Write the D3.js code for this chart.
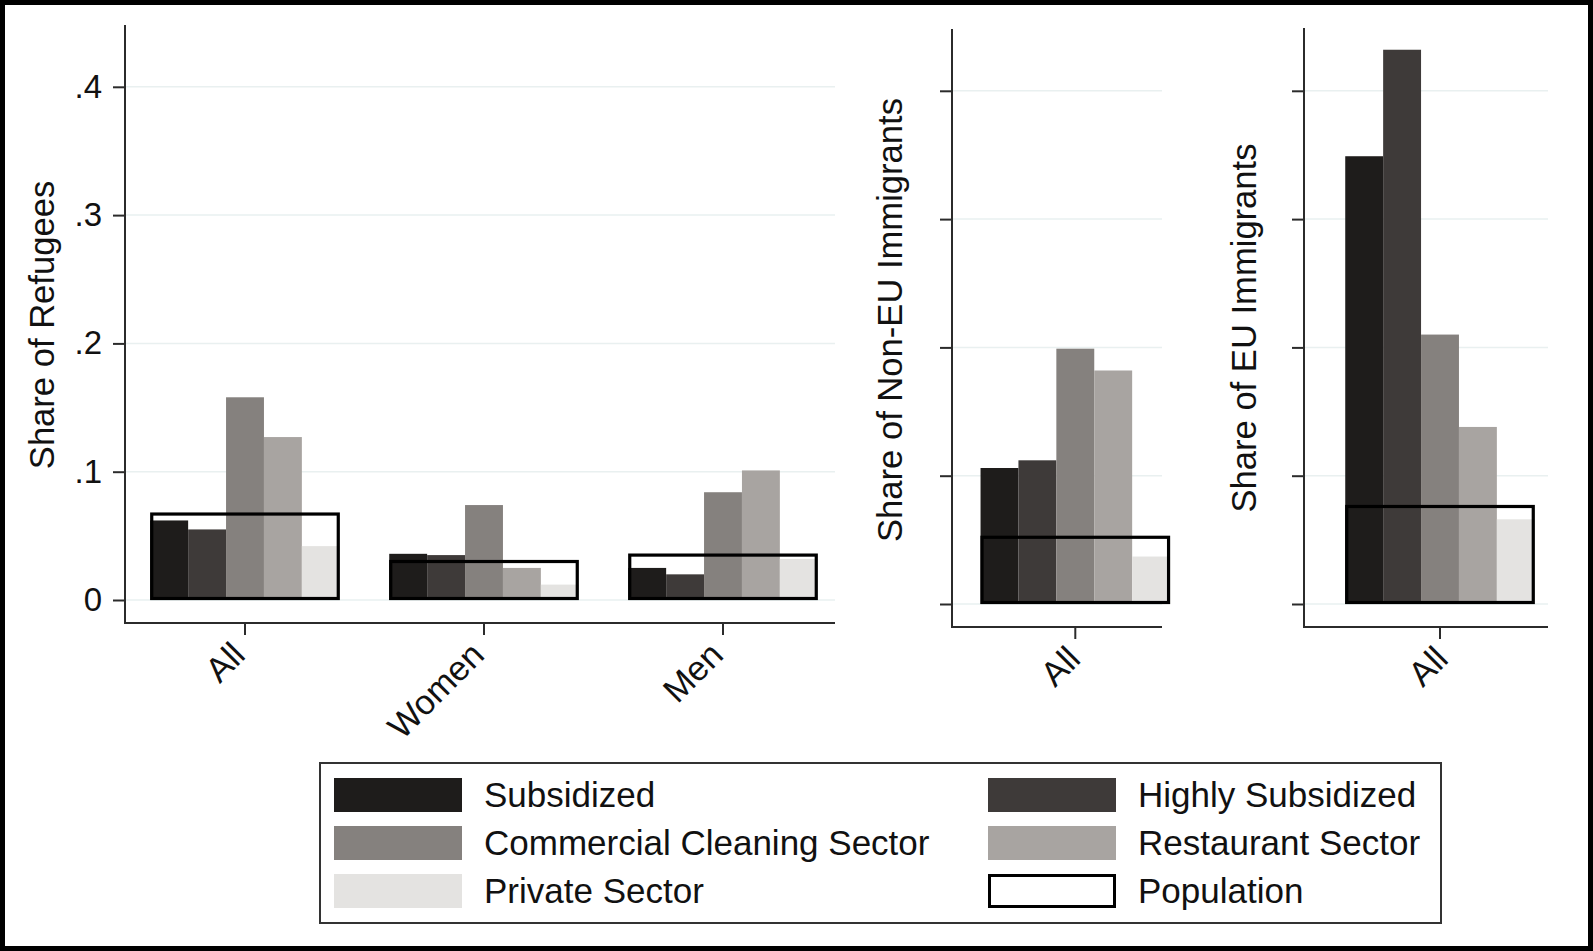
<!DOCTYPE html>
<html>
<head>
<meta charset="utf-8">
<script src="https://cdn.jsdelivr.net/npm/d3@7"></script>
<style>
  html, body { margin: 0; padding: 0; background: #fff; }
  svg { display: block; }
  text { font-family: "Liberation Sans", Arial, Helvetica, sans-serif; fill: #111; }
</style>
</head>
<body>
<svg id="chart" width="1593" height="951"></svg>
<script>
// ---------- data ----------
const seriesNames = ["Subsidized", "Highly Subsidized", "Commercial Cleaning Sector", "Restaurant Sector", "Private Sector"];
const seriesColors = ["#1e1c1b", "#3e3a39", "#85817e", "#a8a4a1", "#e4e3e1"];
const refugeeCategories = ["All", "Women", "Men"];
const refSubsidized = [0.062, 0.036, 0.025];
const refHighly = [0.055, 0.035, 0.020];
const refCleaning = [0.158, 0.074, 0.084];
const refRestaurant = [0.127, 0.025, 0.101];
const refPrivate = [0.042, 0.012, 0.032];
const refPopulation = [0.067, 0.030, 0.035];
const singleCategory = ["All"];
const nonEUValues = [0.106, 0.112, 0.199, 0.182, 0.037];
const nonEUPopulation = [0.052];
const euValues = [0.349, 0.432, 0.210, 0.138, 0.066];
const euPopulation = [0.076];
const yTickValues = [0, 0.1, 0.2, 0.3, 0.4];
const yTickLabels = ["0", ".1", ".2", ".3", ".4"];
const yMax = 0.448;
const legendItems = ["Subsidized", "Highly Subsidized", "Commercial Cleaning Sector", "Restaurant Sector", "Private Sector", "Population"];

// ---------- drawing ----------
const svg = d3.select("#chart");
svg.append("rect").attr("x", 0).attr("y", 0).attr("width", 1593).attr("height", 951).attr("fill", "#fff");

function drawPanel(cfg) {
  const g = svg.append("g");
  const unit = 1283; // px per 1.0
  const y = d3.scaleLinear().domain([0, yMax]).range([cfg.zeroY, cfg.zeroY - yMax * unit]);
  const x = d3.scaleBand().domain(cfg.cats).range(cfg.range).paddingInner(0.207).paddingOuter(0.1035);
  const xs = d3.scaleBand().domain(seriesNames).range([0, x.bandwidth()]);

  // grid
  g.selectAll("line.grid").data(yTickValues).join("line")
    .attr("class", "grid")
    .attr("x1", cfg.axisX).attr("x2", cfg.axisEnd)
    .attr("y1", d => y(d)).attr("y2", d => y(d))
    .attr("stroke", "#e9f0f0").attr("stroke-width", 1.5);

  // bars
  cfg.cats.forEach((c, ci) => {
    seriesNames.forEach((s, si) => {
      const v = cfg.values[si][ci];
      g.append("rect")
        .attr("x", x(c) + xs(s))
        .attr("width", xs.bandwidth())
        .attr("y", y(v))
        .attr("height", y(0) - y(v))
        .attr("fill", seriesColors[si]);
    });
  });
  // population outline
  cfg.cats.forEach((c, ci) => {
    const v = cfg.pop[ci];
    g.append("rect")
      .attr("x", x(c) + 1.5)
      .attr("width", x.bandwidth() - 3)
      .attr("y", y(v))
      .attr("height", y(0) - y(v) - 1.5)
      .attr("fill", "none")
      .attr("stroke", "#000")
      .attr("stroke-width", 3.2);
  });

  // y axis
  const yAxis = d3.axisLeft(y).tickValues(yTickValues).tickSize(12).tickPadding(11)
    .tickFormat((d, i) => cfg.showLabels ? yTickLabels[i] : "");
  const ya = g.append("g").attr("transform", `translate(${cfg.axisX},0)`).call(yAxis);
  ya.select(".domain").remove();
  ya.selectAll(".tick line").attr("stroke", "#2b2b2b").attr("stroke-width", 2);
  ya.selectAll(".tick text").attr("font-size", 33).attr("fill", "#111")
    .style("font-family", '"Liberation Sans", Arial, sans-serif');

  // x axis
  const xAxis = d3.axisBottom(x).tickSize(12).tickPadding(0);
  const xa = g.append("g").attr("transform", `translate(0,${cfg.xAxisY})`).call(xAxis);
  xa.select(".domain").remove();
  xa.selectAll(".tick line").attr("stroke", "#2b2b2b").attr("stroke-width", 2);
  xa.selectAll(".tick text")
    .attr("font-size", 34.6)
    .attr("fill", "#111")
    .style("font-family", '"Liberation Sans", Arial, sans-serif')
    .attr("text-anchor", "end")
    .attr("dy", null)
    .attr("y", null)
    .attr("transform", `translate(${cfg.labelDx},34) rotate(-45)`);

  // axis lines
  g.append("path")
    .attr("d", `M${cfg.axisX},${cfg.top}V${cfg.xAxisY}H${cfg.axisEnd}`)
    .attr("fill", "none").attr("stroke", "#2b2b2b").attr("stroke-width", 2);

  // title
  g.append("text")
    .attr("transform", `translate(${cfg.titleX},${cfg.titleY}) rotate(-90)`)
    .attr("text-anchor", "middle")
    .attr("font-size", 34.6)
    .text(cfg.title);
}

drawPanel({
  cats: refugeeCategories,
  values: [refSubsidized, refHighly, refCleaning, refRestaurant, refPrivate],
  pop: refPopulation,
  axisX: 125, axisEnd: 835, zeroY: 600, top: 25, xAxisY: 623,
  range: [125.5, 842.5], showLabels: true, labelDx: 2,
  title: "Share of Refugees", titleX: 54, titleY: 325
});
drawPanel({
  cats: singleCategory,
  values: nonEUValues.map(v => [v]),
  pop: nonEUPopulation,
  axisX: 952, axisEnd: 1162, zeroY: 604, top: 29, xAxisY: 627,
  range: [1075.3 - 119.5, 1075.3 + 119.5], showLabels: false, labelDx: 7,
  title: "Share of Non-EU Immigrants", titleX: 902, titleY: 320
});
drawPanel({
  cats: singleCategory,
  values: euValues.map(v => [v]),
  pop: euPopulation,
  axisX: 1304, axisEnd: 1548, zeroY: 604, top: 28, xAxisY: 627,
  range: [1440 - 119.5, 1440 + 119.5], showLabels: false, labelDx: 10,
  title: "Share of EU Immigrants", titleX: 1256, titleY: 328
});

// legend
const lg = svg.append("g");
lg.append("rect").attr("x", 320).attr("y", 763).attr("width", 1121).attr("height", 160)
  .attr("fill", "#fff").attr("stroke", "#333").attr("stroke-width", 2);
const colX = [334, 988];
const rowY = [778, 826, 874];
legendItems.forEach((name, i) => {
  const col = i % 2, row = Math.floor(i / 2);
  const isPop = name === "Population";
  lg.append("rect")
    .attr("x", colX[col] + (isPop ? 1.5 : 0))
    .attr("y", rowY[row] + (isPop ? 1.5 : 0))
    .attr("width", 128 - (isPop ? 3 : 0))
    .attr("height", 34 - (isPop ? 3 : 0))
    .attr("fill", isPop ? "#fff" : seriesColors[i])
    .attr("stroke", isPop ? "#000" : "none")
    .attr("stroke-width", isPop ? 3 : 0);
  lg.append("text")
    .attr("x", colX[col] + 150)
    .attr("y", rowY[row] + 17 + 12)
    .attr("font-size", 35)
    .text(name);
});

// outer frame
svg.append("rect").attr("x", 2.5).attr("y", 2.5).attr("width", 1588).attr("height", 946)
  .attr("fill", "none").attr("stroke", "#000").attr("stroke-width", 5);
</script>
</body>
</html>
